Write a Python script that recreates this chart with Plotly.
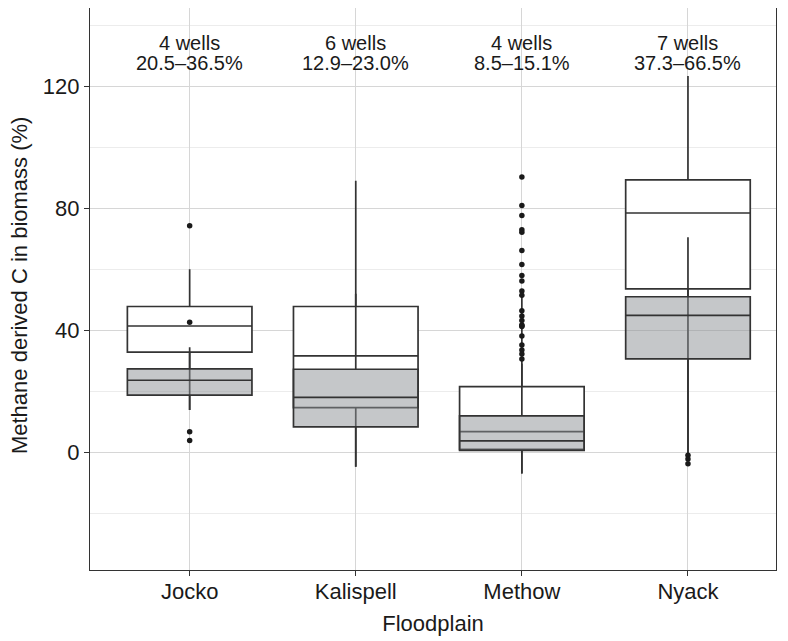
import plotly.graph_objects as go

categories = ["Jocko", "Kalispell", "Methow", "Nyack"]

# Upper estimate (white boxes)
high_q1 = [32.8, 14.6, 0.9, 53.6]
high_median = [41.4, 31.6, 6.7, 78.5]
high_q3 = [47.8, 47.8, 21.5, 89.4]
high_lower = [13.8, -4.8, -7.0, -0.4]
high_upper = [60.0, 89.1, 52.3, 123.5]

# Lower estimate (grey boxes)
low_q1 = [18.7, 8.3, 0.6, 30.6]
low_median = [23.6, 18.0, 3.7, 44.9]
low_q3 = [27.3, 27.2, 11.9, 51.0]
low_lower = [13.8, -4.8, -7.0, -0.4]
low_upper = [34.4, 52.0, 29.0, 70.5]

# Outlying points
outlier_x = (["Jocko"] * 4 + ["Nyack"] * 3 + ["Methow"] * 22)
outlier_y = [74.3, 42.6, 6.7, 3.8,
             -1.0, -2.3, -3.8,
             90.3, 81.0, 77.7, 73.0, 72.2, 66.2, 61.6, 58.0, 56.2, 52.9, 51.5,
             46.4, 44.7, 43.2, 41.7, 41.2, 38.1, 35.2, 33.5, 32.2, 30.6, 41.5]

wells = ["4 wells", "6 wells", "4 wells", "7 wells"]
ranges = ["20.5\u201336.5%", "12.9\u201323.0%", "8.5\u201315.1%", "37.3\u201366.5%"]

font_family = "Liberation Sans, Arial, sans-serif"
line_col = "#333333"

fig = go.Figure()
fig.add_trace(go.Box(
    x=categories, q1=high_q1, median=high_median, q3=high_q3,
    lowerfence=high_lower, upperfence=high_upper,
    fillcolor="white", line=dict(color=line_col, width=1.7),
    width=0.75, whiskerwidth=0, boxpoints=False, showlegend=False,
))
fig.add_trace(go.Box(
    x=categories, q1=low_q1, median=low_median, q3=low_q3,
    lowerfence=low_lower, upperfence=low_upper,
    fillcolor="rgba(140,143,148,0.5)", line=dict(color=line_col, width=1.7),
    width=0.75, whiskerwidth=0, boxpoints=False, showlegend=False,
))
fig.add_trace(go.Scatter(
    x=outlier_x, y=outlier_y, mode="markers",
    marker=dict(color="#1a1a1a", size=5.5), showlegend=False,
))

for c, w, r in zip(categories, wells, ranges):
    fig.add_annotation(x=c, y=134.3, text=w, showarrow=False,
                       font=dict(size=20, color="#1a1a1a", family=font_family))
    fig.add_annotation(x=c, y=127.6, text=r, showarrow=False,
                       font=dict(size=20, color="#1a1a1a", family=font_family))

# y-axis title placed as a rotated annotation
fig.add_annotation(xref="paper", yref="paper", x=-0.1035, y=0.507,
                   xanchor="center", yanchor="middle", textangle=-90,
                   text="Methane derived C in biomass (%)", showarrow=False,
                   font=dict(size=22, color="#1a1a1a", family=font_family))

fig.update_layout(
    width=780, height=633,
    margin=dict(l=82, r=12, t=0, b=71),
    paper_bgcolor="white", plot_bgcolor="white",
    boxmode="overlay",
    font=dict(family=font_family, color="#1a1a1a", size=22),
    xaxis=dict(
        type="category", categoryorder="array", categoryarray=categories,
        range=[-0.6, 3.53],
        showgrid=True, gridcolor="#d6d6d6", gridwidth=1,
        showline=True, linecolor=line_col, linewidth=1.2, mirror=True,
        ticks="outside", ticklen=5, tickcolor=line_col,
        tickfont=dict(size=22, color="#1a1a1a"),
        ticklabelstandoff=-4,
        title=dict(text="Floodplain", font=dict(size=22), standoff=13),
        zeroline=False,
    ),
    yaxis=dict(
        range=[-38.7, 145.8],
        tickvals=[0, 40, 80, 120],
        showgrid=True, gridcolor="#d6d6d6", gridwidth=1,
        minor=dict(tickvals=[-20, 20, 60, 100, 140], showgrid=True,
                   gridcolor="#ececec", gridwidth=1, ticks=""),
        showline=True, linecolor=line_col, linewidth=1.2, mirror=True,
        ticks="outside", ticklen=5, tickcolor=line_col,
        tickfont=dict(size=22, color="#1a1a1a"),
        zeroline=False,
    ),
)

fig.write_html("out.html")
